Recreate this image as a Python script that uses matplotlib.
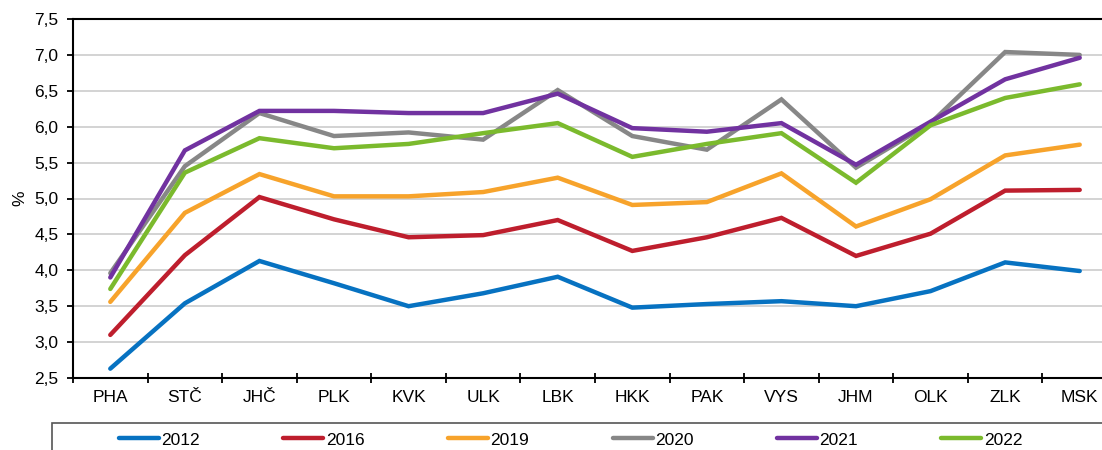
import matplotlib.pyplot as plt
from matplotlib.patches import Rectangle
from matplotlib.ticker import FuncFormatter, FixedLocator

plt.rcParams['font.family'] = ['Liberation Sans', 'DejaVu Sans']

regions = ['PHA', 'STČ', 'JHČ', 'PLK', 'KVK', 'ULK', 'LBK',
           'HKK', 'PAK', 'VYS', 'JHM', 'OLK', 'ZLK', 'MSK']

y2012 = [2.63, 3.54, 4.13, 3.82, 3.50, 3.68, 3.91, 3.48, 3.53, 3.57, 3.50, 3.71, 4.11, 3.99]
y2016 = [3.10, 4.21, 5.02, 4.71, 4.46, 4.49, 4.70, 4.27, 4.46, 4.73, 4.20, 4.51, 5.11, 5.12]
y2019 = [3.56, 4.80, 5.34, 5.03, 5.03, 5.09, 5.29, 4.91, 4.95, 5.35, 4.61, 4.99, 5.60, 5.75]
y2020 = [3.96, 5.45, 6.19, 5.87, 5.92, 5.82, 6.51, 5.87, 5.68, 6.38, 5.43, 6.05, 7.04, 7.00]
y2021 = [3.90, 5.67, 6.22, 6.22, 6.19, 6.19, 6.46, 5.98, 5.93, 6.05, 5.47, 6.07, 6.66, 6.96]
y2022 = [3.74, 5.36, 5.84, 5.70, 5.76, 5.91, 6.05, 5.58, 5.76, 5.91, 5.22, 6.02, 6.40, 6.59]

series = [('2012', y2012, '#0772C1'),
          ('2016', y2016, '#BE1E2D'),
          ('2019', y2019, '#F7A32B'),
          ('2020', y2020, '#878787'),
          ('2021', y2021, '#7132A0'),
          ('2022', y2022, '#7BBA2D')]

W, H = 1102, 450
fs = 12.5
fig = plt.figure(figsize=(W / 100, H / 100), dpi=100)
ax = fig.add_axes([73 / W, 72 / H, (1117 - 73) / W, (378 - 19) / H])

x = range(len(regions))
for name, vals, col in series:
    ax.plot(x, vals, color=col, lw=3.2, label=name, solid_capstyle='round',
            solid_joinstyle='miter')

ax.set_xlim(-0.5, len(regions) - 0.5)
ax.set_ylim(2.5, 7.5)
ax.set_yticks([2.5 + 0.5 * i for i in range(11)])
ax.yaxis.set_major_formatter(FuncFormatter(lambda v, p: f'{v:.1f}'.replace('.', ',')))
ax.grid(axis='y', color='#D0D0D0', lw=1.3)
ax.set_axisbelow(True)

ax.set_xticks(list(x))
ax.set_xticklabels(regions)
ax.xaxis.set_minor_locator(FixedLocator([i - 0.5 for i in range(len(regions) + 1)]))
ax.tick_params(axis='x', which='major', length=0, pad=9, labelsize=fs)
ax.tick_params(axis='x', which='minor', length=7, direction='inout', width=1.3)
ax.tick_params(axis='y', length=4.5, width=1.3, pad=6, labelsize=fs)

for s in ['left', 'bottom', 'top']:
    ax.spines[s].set_linewidth(1.5)
ax.spines['right'].set_visible(False)

ax.set_ylabel('%', fontsize=fs, labelpad=5)

# legend box (runs off the bottom/right of the figure as in the original)
fig.patches.append(Rectangle((52 / W, -0.1), 1.2, (H - 423) / H + 0.1,
                             transform=fig.transFigure, fill=False,
                             edgecolor='#555555', lw=1.2))
fig.legend(loc='center left', bbox_to_anchor=(119 / W, 1 - 440 / H), ncol=6,
           frameon=False, fontsize=fs, handlelength=2.3, handletextpad=0.15,
           columnspacing=4.8, borderaxespad=0, borderpad=0)

fig.savefig('out.png', dpi=100)
